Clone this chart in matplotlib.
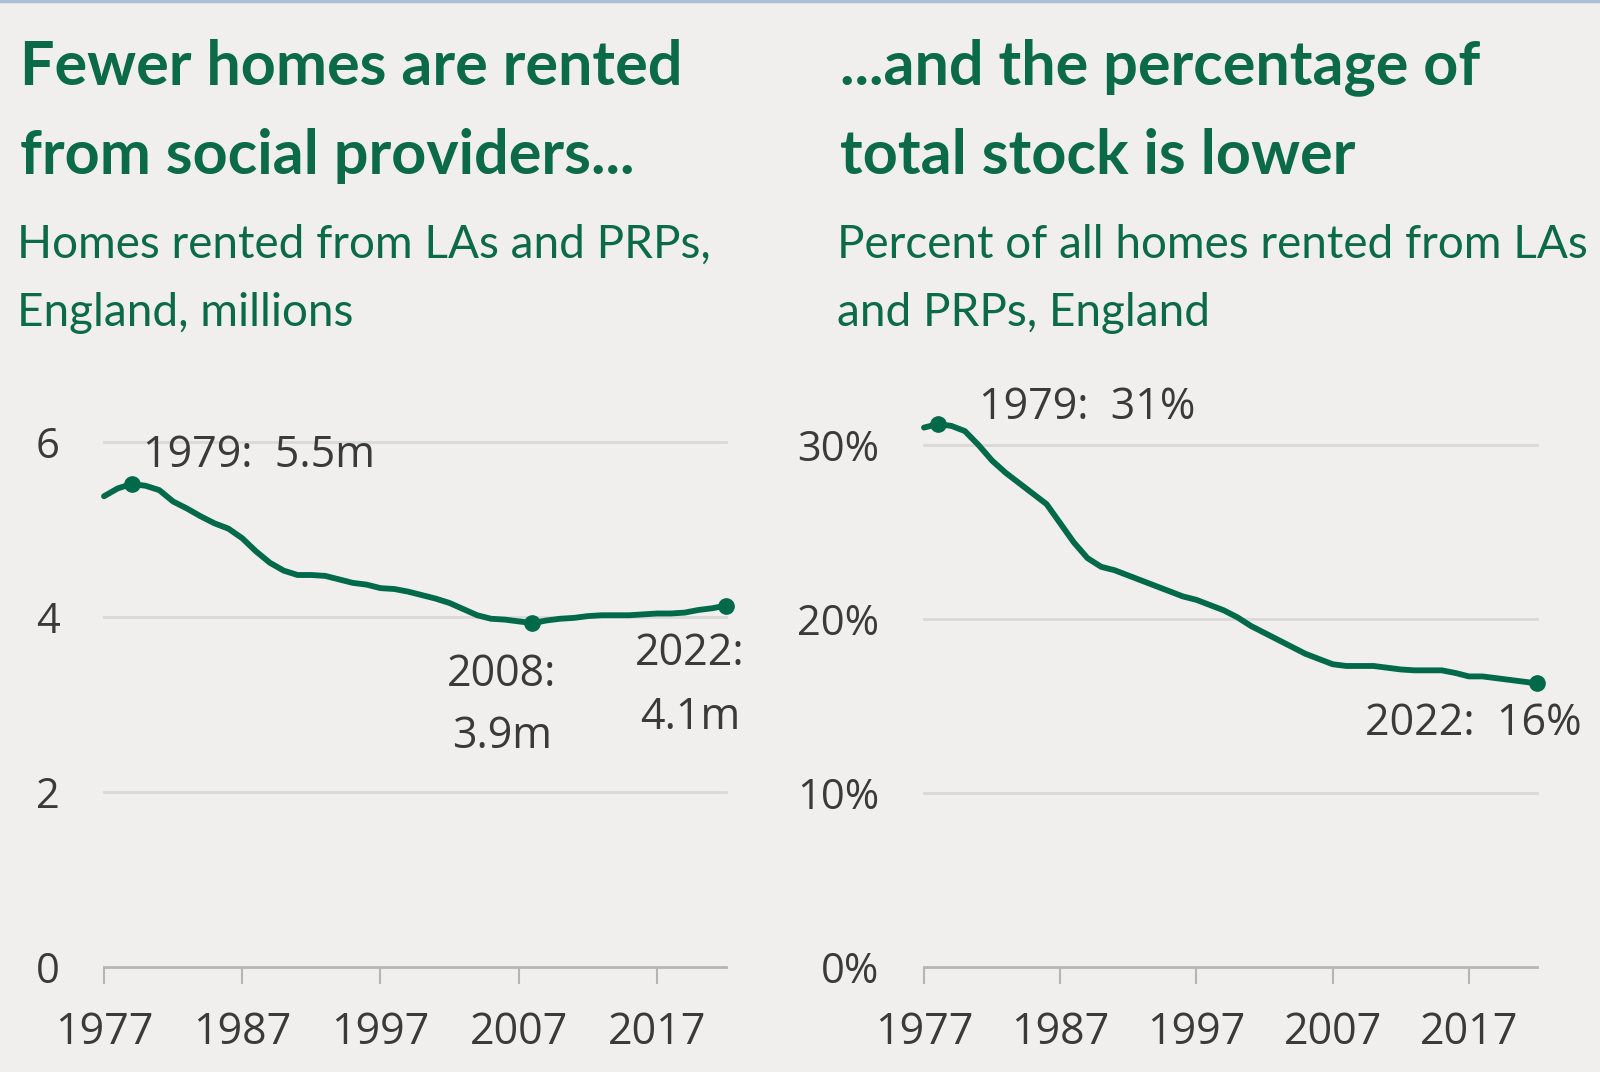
import numpy as np
import matplotlib
matplotlib.use("Agg")
import matplotlib.pyplot as plt

# data
years = list(range(1977, 2023))
homes_millions = [5.38, 5.47, 5.52, 5.50, 5.45, 5.32, 5.24, 5.15, 5.07, 5.01,
                  4.90, 4.75, 4.62, 4.53, 4.48, 4.48, 4.47, 4.43, 4.39, 4.37,
                  4.33, 4.32, 4.29, 4.25, 4.21, 4.16, 4.09, 4.02, 3.98, 3.97,
                  3.95, 3.93, 3.96, 3.98, 3.99, 4.01, 4.02, 4.02, 4.02, 4.03,
                  4.04, 4.04, 4.05, 4.08, 4.10, 4.13]
share_percent = [31.0, 31.2, 31.1, 30.8, 30.0, 29.1, 28.4, 27.8, 27.2, 26.6,
                 25.5, 24.4, 23.5, 23.0, 22.8, 22.5, 22.2, 21.9, 21.6, 21.3,
                 21.1, 20.8, 20.5, 20.1, 19.6, 19.2, 18.8, 18.4, 18.0, 17.7,
                 17.4, 17.3, 17.3, 17.3, 17.2, 17.1, 17.05, 17.05, 17.05, 16.9,
                 16.7, 16.7, 16.6, 16.5, 16.4, 16.3]
xticks = [1977, 1987, 1997, 2007, 2017]
homes_yticks = [0, 2, 4, 6]
share_yticks = [0, 10, 20, 30]

GREEN = "#00694a"
TITLE_GREEN = "#0b6a47"
BG = "#f0efed"
TEXT = "#3a3a3a"
GRID = "#d9d9d7"
AXIS = "#b5b5b5"

W, H = 1600, 1072
fig = plt.figure(figsize=(W / 100, H / 100), dpi=100, facecolor=BG)


def fx(px):
    return px / W


def fy(py):
    return 1 - py / H


# thin bar along the top
fig.add_artist(plt.Line2D([0, 1], [fy(1), fy(1)], color="#a9bfd6", lw=2.5))

title_kw = dict(color=TITLE_GREEN, fontsize=44, fontweight="bold", family="Lato", va="center")
sub_kw = dict(color=TITLE_GREEN, fontsize=33, family="Lato", va="center")

fig.text(fx(20), fy(67), "Fewer homes are rented", **title_kw)
fig.text(fx(20), fy(156), "from social providers...", **title_kw)
fig.text(fx(17), fy(245), "Homes rented from LAs and PRPs,", **sub_kw)
fig.text(fx(17), fy(313), "England, millions", **sub_kw)

fig.text(fx(840), fy(67), "...and the percentage of", **title_kw)
fig.text(fx(840), fy(156), "total stock is lower", **title_kw)
fig.text(fx(837), fy(245), "Percent of all homes rented from LAs", **sub_kw)
fig.text(fx(837), fy(313), "and PRPs, England", **sub_kw)


def setup(ax, yticks, labels):
    ax.set_facecolor(BG)
    for s in ["top", "right", "left"]:
        ax.spines[s].set_visible(False)
    ax.spines["bottom"].set_color(AXIS)
    ax.spines["bottom"].set_linewidth(2)
    ax.set_xlim(1977, 2022)
    ax.set_xticks(xticks)
    ax.set_xticklabels([str(x) for x in xticks])
    ax.set_yticks(yticks)
    ax.set_yticklabels(labels)
    ax.set_ylim(yticks[0], yticks[-1])
    ax.tick_params(axis="x", length=12, width=1.5, color=AXIS, pad=19,
                   labelsize=31, labelcolor=TEXT)
    ax.tick_params(axis="y", length=0, pad=32, labelsize=30, labelcolor=TEXT)
    for t in ax.get_xticklabels() + ax.get_yticklabels():
        t.set_family("Open Sans")
    for v in yticks[1:]:
        ax.axhline(v, color=GRID, lw=2, zorder=1, clip_on=False)


ann_kw = dict(textcoords="offset points", fontsize=31, color=TEXT, family="Open Sans",
              annotation_clip=False)

# left chart
ax1 = fig.add_axes([fx(104), fy(967), fx(726 - 104), fy(442) - fy(967)])
setup(ax1, homes_yticks, [str(v) for v in homes_yticks])
ax1.plot(years, homes_millions, color=GREEN, lw=4.2, solid_capstyle="round", zorder=3, clip_on=False)
for yr in [1979, 2008, 2022]:
    i = years.index(yr)
    ax1.plot(years[i], homes_millions[i], "o", color=GREEN, ms=11, zorder=4, clip_on=False)

i = years.index(1979)
ax1.annotate("1979:  5.5m", (years[i], homes_millions[i]), xytext=(8, 20),
             ha="left", va="center", **ann_kw)
i = years.index(2008)
ax1.annotate("2008:", (years[i], homes_millions[i]), xytext=(-22, -37),
             ha="center", va="center", **ann_kw)
ax1.annotate("3.9m", (years[i], homes_millions[i]), xytext=(-22, -82),
             ha="center", va="center", **ann_kw)
i = years.index(2022)
ax1.annotate("2022:", (years[i], homes_millions[i]), xytext=(-26, -35),
             ha="center", va="center", **ann_kw)
ax1.annotate("4.1m", (years[i], homes_millions[i]), xytext=(-26, -81),
             ha="center", va="center", **ann_kw)

# right chart
ax2 = fig.add_axes([fx(924), fy(967), fx(1537 - 924), fy(445) - fy(967)])
setup(ax2, share_yticks, [f"{v}%" for v in share_yticks])
ax2.plot(years, share_percent, color=GREEN, lw=4.2, solid_capstyle="round", zorder=3, clip_on=False)
for yr in [1978, 2022]:
    i = years.index(yr)
    ax2.plot(years[i], share_percent[i], "o", color=GREEN, ms=11, zorder=4, clip_on=False)

i = years.index(1978)
ax2.annotate("1979:  31%", (years[i], share_percent[i]), xytext=(30, 12),
             ha="left", va="center", **ann_kw)
i = years.index(2022)
ax2.annotate("2022:  16%", (years[i], share_percent[i]), xytext=(32, -29),
             ha="right", va="center", **ann_kw)

fig.savefig("out.png", dpi=100, facecolor=BG)
